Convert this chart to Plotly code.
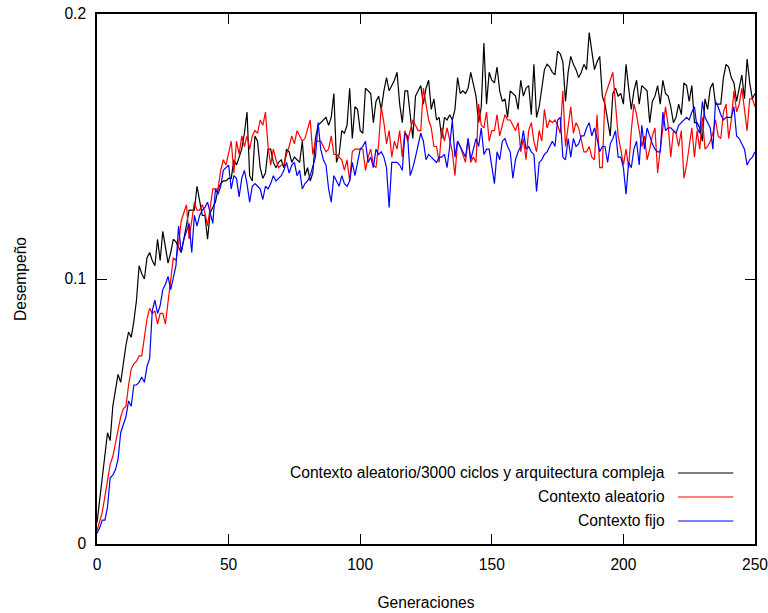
import plotly.graph_objects as go

generations = list(range(0, 251))

black_vals = [
    0.008, 0.016, 0.025, 0.034, 0.042, 0.039, 0.052, 0.058, 0.064, 0.061,
    0.069, 0.075, 0.080, 0.078, 0.084, 0.092, 0.105, 0.102, 0.100, 0.108,
    0.110, 0.107, 0.105, 0.115, 0.107, 0.118, 0.112, 0.106, 0.110, 0.115,
    0.114, 0.112, 0.110, 0.115, 0.121, 0.126, 0.126, 0.126, 0.135, 0.129,
    0.124, 0.124, 0.115, 0.125, 0.127, 0.129, 0.134, 0.136, 0.137, 0.137,
    0.138, 0.138, 0.145, 0.143, 0.146, 0.149, 0.155, 0.163, 0.139, 0.137,
    0.154, 0.152, 0.142, 0.138, 0.140, 0.149, 0.149, 0.144, 0.142, 0.144,
    0.145, 0.142, 0.149, 0.148, 0.144, 0.146, 0.145, 0.144, 0.152, 0.139,
    0.142, 0.137, 0.140, 0.153, 0.158, 0.159, 0.160, 0.161, 0.158, 0.161,
    0.170, 0.144, 0.147, 0.156, 0.155, 0.158, 0.172, 0.153, 0.165, 0.164,
    0.156, 0.155, 0.172, 0.171, 0.170, 0.159, 0.167, 0.169, 0.164, 0.171,
    0.176, 0.171, 0.173, 0.175, 0.178, 0.166, 0.159, 0.171, 0.171, 0.163,
    0.153, 0.169, 0.171, 0.173, 0.166, 0.172, 0.175, 0.164, 0.168, 0.160,
    0.161, 0.153, 0.161, 0.160, 0.162, 0.160, 0.164, 0.176, 0.170, 0.171,
    0.170, 0.172, 0.178, 0.173, 0.169, 0.159, 0.165, 0.189, 0.166, 0.178,
    0.175, 0.174, 0.180, 0.171, 0.167, 0.168, 0.161, 0.171, 0.170, 0.169,
    0.164, 0.175, 0.169, 0.172, 0.173, 0.162, 0.181, 0.161, 0.165, 0.172,
    0.179, 0.181, 0.180, 0.178, 0.177, 0.186, 0.185, 0.182, 0.167, 0.178,
    0.184, 0.181, 0.179, 0.176, 0.178, 0.181, 0.179, 0.193, 0.186, 0.179,
    0.182, 0.184, 0.169, 0.166, 0.160, 0.154, 0.170, 0.172, 0.169, 0.170,
    0.166, 0.181, 0.172, 0.164, 0.171, 0.175, 0.166, 0.173, 0.172, 0.171,
    0.159, 0.167, 0.169, 0.173, 0.166, 0.175, 0.170, 0.169, 0.165, 0.159,
    0.161, 0.166, 0.162, 0.174, 0.173, 0.167, 0.173, 0.159, 0.159, 0.157,
    0.152, 0.168, 0.164, 0.172, 0.174, 0.166, 0.166, 0.166, 0.176, 0.181,
    0.180, 0.176, 0.174, 0.167, 0.172, 0.177, 0.168, 0.183, 0.174, 0.168,
    0.170,
]

red_vals = [
    0.005, 0.009, 0.012, 0.018, 0.024, 0.030, 0.033, 0.038, 0.044, 0.048,
    0.051, 0.052, 0.060, 0.066, 0.068, 0.069, 0.071, 0.071, 0.078, 0.085,
    0.089, 0.087, 0.088, 0.083, 0.087, 0.087, 0.083, 0.092, 0.100, 0.108,
    0.107, 0.113, 0.122, 0.125, 0.128, 0.115, 0.123, 0.129, 0.126, 0.126,
    0.128, 0.125, 0.120, 0.127, 0.134, 0.134, 0.134, 0.141, 0.145, 0.143,
    0.147, 0.152, 0.140, 0.152, 0.147, 0.154, 0.150, 0.154, 0.149, 0.154,
    0.156, 0.155, 0.160, 0.158, 0.163, 0.150, 0.143, 0.149, 0.145, 0.142,
    0.143, 0.143, 0.147, 0.150, 0.154, 0.151, 0.156, 0.154, 0.152, 0.153,
    0.157, 0.160, 0.147, 0.152, 0.152, 0.152, 0.150, 0.148, 0.149, 0.154,
    0.147, 0.147, 0.146, 0.145, 0.141, 0.145, 0.137, 0.148, 0.149, 0.149,
    0.149, 0.149, 0.141, 0.146, 0.149, 0.143, 0.142, 0.151, 0.165, 0.159,
    0.151, 0.156, 0.146, 0.152, 0.149, 0.156, 0.146, 0.156, 0.152, 0.156,
    0.160, 0.158, 0.156, 0.156, 0.172, 0.166, 0.160, 0.157, 0.150, 0.150,
    0.144, 0.157, 0.152, 0.157, 0.152, 0.148, 0.139, 0.152, 0.150, 0.147,
    0.144, 0.153, 0.144, 0.146, 0.144, 0.166, 0.158, 0.157, 0.163, 0.152,
    0.156, 0.156, 0.162, 0.154, 0.158, 0.162, 0.160, 0.160, 0.158, 0.156,
    0.159, 0.148, 0.153, 0.145, 0.156, 0.159, 0.152, 0.148, 0.156, 0.152,
    0.164, 0.157, 0.160, 0.159, 0.160, 0.158, 0.155, 0.171, 0.150, 0.157,
    0.165, 0.155, 0.159, 0.157, 0.152, 0.148, 0.148, 0.150, 0.146, 0.145,
    0.162, 0.142, 0.142, 0.169, 0.172, 0.175, 0.178, 0.166, 0.154, 0.149,
    0.143, 0.149, 0.142, 0.156, 0.166, 0.162, 0.156, 0.150, 0.154, 0.145,
    0.149, 0.154, 0.157, 0.140, 0.149, 0.157, 0.165, 0.158, 0.146, 0.156,
    0.155, 0.150, 0.156, 0.138, 0.143, 0.150, 0.157, 0.146, 0.156, 0.149,
    0.161, 0.149, 0.150, 0.152, 0.155, 0.160, 0.154, 0.153, 0.163, 0.166,
    0.153, 0.160, 0.171, 0.163, 0.166, 0.172, 0.163, 0.156, 0.168, 0.168,
    0.165,
]

blue_vals = [
    0.004, 0.006, 0.009, 0.009, 0.014, 0.025, 0.026, 0.028, 0.032, 0.042,
    0.045, 0.048, 0.054, 0.052, 0.060, 0.060, 0.061, 0.063, 0.061, 0.067,
    0.070, 0.088, 0.092, 0.087, 0.090, 0.096, 0.098, 0.101, 0.096, 0.100,
    0.105, 0.120, 0.110, 0.115, 0.118, 0.121, 0.110, 0.124, 0.120, 0.124,
    0.126, 0.127, 0.129, 0.125, 0.121, 0.134, 0.132, 0.135, 0.141, 0.142,
    0.143, 0.134, 0.139, 0.138, 0.131, 0.138, 0.141, 0.136, 0.129, 0.135,
    0.136, 0.135, 0.134, 0.130, 0.135, 0.134, 0.136, 0.139, 0.137, 0.138,
    0.139, 0.141, 0.144, 0.140, 0.143, 0.144, 0.139, 0.141, 0.134, 0.136,
    0.137, 0.139, 0.143, 0.146, 0.159, 0.149, 0.145, 0.143, 0.134, 0.129,
    0.139, 0.137, 0.135, 0.139, 0.136, 0.135, 0.137, 0.144, 0.139, 0.144,
    0.149, 0.150, 0.152, 0.144, 0.146, 0.142, 0.149, 0.147, 0.148, 0.146,
    0.142, 0.127, 0.144, 0.144, 0.144, 0.143, 0.141, 0.155, 0.154, 0.139,
    0.142, 0.146, 0.150, 0.155, 0.152, 0.145, 0.147, 0.146, 0.145, 0.144,
    0.146, 0.146, 0.147, 0.142, 0.150, 0.160, 0.146, 0.152, 0.150, 0.148,
    0.146, 0.153, 0.145, 0.149, 0.153, 0.150, 0.157, 0.147, 0.149, 0.149,
    0.143, 0.136, 0.148, 0.145, 0.152, 0.153, 0.150, 0.148, 0.138, 0.145,
    0.148, 0.150, 0.156, 0.149, 0.150, 0.148, 0.147, 0.133, 0.144, 0.145,
    0.147, 0.148, 0.150, 0.152, 0.150, 0.160, 0.161, 0.146, 0.145, 0.153,
    0.146, 0.153, 0.150, 0.151, 0.154, 0.154, 0.157, 0.159, 0.154, 0.157,
    0.153, 0.148, 0.150, 0.150, 0.144, 0.151, 0.153, 0.156, 0.146, 0.146,
    0.142, 0.132, 0.144, 0.142, 0.149, 0.152, 0.143, 0.158, 0.149, 0.157,
    0.154, 0.151, 0.149, 0.148, 0.148, 0.163, 0.156, 0.157, 0.157, 0.156,
    0.155, 0.158, 0.159, 0.160, 0.161, 0.160, 0.163, 0.165, 0.157, 0.155,
    0.167, 0.161, 0.159, 0.157, 0.149, 0.167, 0.165, 0.162, 0.160, 0.161,
    0.161, 0.161, 0.165, 0.154, 0.153, 0.151, 0.149, 0.143, 0.145, 0.146,
    0.148,
]

series_names = [
    "Contexto aleatorio/3000 ciclos y arquitectura compleja",
    "Contexto aleatorio",
    "Contexto fijo",
]
series_colors = ["#000000", "#ff0000", "#0000ff"]
series_values = [black_vals, red_vals, blue_vals]

x_ticks = [0, 50, 100, 150, 200, 250]
y_ticks = [0, 0.1, 0.2]
y_tick_labels = ["0", "0.1", "0.2"]

FONT = "Liberation Sans, Arial, Helvetica, sans-serif"
FS = 15.6

fig = go.Figure()
for name, color, vals in zip(series_names, series_colors, series_values):
    fig.add_trace(go.Scatter(
        x=generations, y=vals, mode="lines", name=name,
        line=dict(color=color, width=1.2), showlegend=False,
    ))

# gnuplot-style key: text right-aligned, line sample to its right
legend_rows = [0.134, 0.0887, 0.0434]
for name, color, yy in zip(series_names, series_colors, legend_rows):
    fig.add_annotation(
        x=0.866, y=yy, xref="paper", yref="paper", text=name,
        showarrow=False, xanchor="right", yanchor="middle",
        font=dict(family=FONT, size=FS, color="#000000"),
    )
    fig.add_shape(
        type="line", xref="paper", yref="paper",
        x0=0.883, x1=0.967, y0=yy, y1=yy,
        line=dict(color=color, width=1.2),
    )

fig.update_layout(
    width=768, height=613,
    margin=dict(l=97, r=13, t=14, b=69),
    paper_bgcolor="white", plot_bgcolor="white",
    font=dict(family=FONT, size=FS, color="#000000"),
    showlegend=False,
)
fig.update_xaxes(
    range=[0, 250], tickvals=x_ticks, ticks="inside", ticklen=10,
    tickcolor="black", tickwidth=1, showline=True, linecolor="black",
    linewidth=1.5, mirror="ticks", showgrid=False, zeroline=False,
    automargin=False, ticklabelstandoff=6, ticklabeloverflow="allow",
    title=dict(text="Generaciones", standoff=25, font=dict(size=FS)),
    tickfont=dict(size=FS),
)
fig.update_yaxes(
    range=[0, 0.2], tickvals=y_ticks, ticktext=y_tick_labels,
    ticks="inside", ticklen=10, tickcolor="black", tickwidth=1,
    showline=True, linecolor="black", linewidth=1.5, mirror="ticks",
    showgrid=False, zeroline=False, automargin=False, ticklabelstandoff=6,
    ticklabeloverflow="allow",
    title=dict(text="Desempeño", standoff=34, font=dict(size=FS)),
    tickfont=dict(size=FS),
)

# remove the default 8px page margin so the 768x613 figure fills the window
fig.write_html(
    "out.html",
    config={"displayModeBar": False},
    post_script="document.body.style.margin='0px';document.body.style.overflow='hidden';",
)
